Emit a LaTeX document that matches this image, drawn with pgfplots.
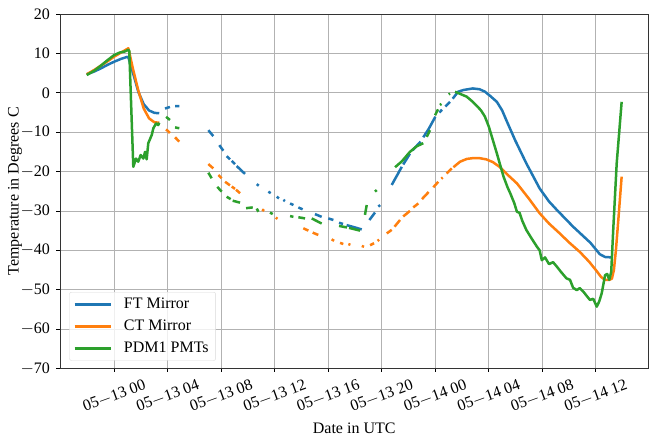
\documentclass[border=0pt]{standalone}
\usepackage{fontspec}
\setmainfont{Liberation Serif}
\usepackage{pgfplots}
\pgfplotsset{compat=1.18}
\definecolor{tabblue}{HTML}{1F77B4}
\definecolor{taborange}{HTML}{FF7F0E}
\definecolor{tabgreen}{HTML}{2CA02C}
\begin{document}
\begin{tikzpicture}
\begin{axis}[
  scale only axis,
  width=588.4pt, height=354.5pt,
  xmin=-4.06, xmax=39.93, ymin=-70, ymax=20,
  unbounded coords=jump,
  xtick={0,4,...,36},
  xticklabels={05$-$13 00,05$-$13 04,05$-$13 08,05$-$13 12,05$-$13 16,05$-$13 20,05$-$14 00,05$-$14 04,05$-$14 08,05$-$14 12},
  ytick={-70,-60,...,20},
  yticklabels={$-$70,$-$60,$-$50,$-$40,$-$30,$-$20,$-$10,0,10,20},
  tick align=outside, tick pos=left,
  major tick length=3.5pt,
  every tick/.style={black, line width=0.8pt},
  grid=major,
  major grid style={color=black!30, line width=0.8pt},
  axis line style={black!80, line width=0.9pt},
  ticklabel style={font=\fontsize{16}{19}\selectfont},
  xticklabel style={rotate=20, anchor=center},
  xticklabel shift=24pt,
  yticklabel style={anchor=east, xshift=-3pt},
  xlabel={Date in UTC},
  ylabel={Temperature in Degrees C},
  label style={font=\fontsize{16}{19}\selectfont},
  xlabel style={at={(axis description cs:0.5,-0.1678)}, anchor=center},
  ylabel style={at={(axis description cs:-0.0765,0.5)}, anchor=center},
  legend cell align=left,
  legend image code/.code={\draw[#1] (0pt,0pt) -- (36pt,0pt);},
  legend style={at={(0.0158,0.022)}, anchor=south west, draw=black!15, rounded corners=2pt,
    fill=white, fill opacity=0.8, text opacity=1, font=\fontsize{16}{19}\selectfont,
    inner xsep=4pt, inner ysep=5pt, row sep=8pt, column sep=9pt, nodes={inner xsep=3pt, inner ysep=1pt}},
  every axis plot/.append style={line width=2.5pt, line join=round, line cap=butt},
]
\addplot[tabblue] coordinates {
(-2.06,4.7) (-1.5,5.4) (-1.0,6.2) (-0.5,7.1) (0,7.9) (0.5,8.6) (0.95,9.1) (1.05,9.0) (1.4,5.0) (1.8,0.2) (2.2,-2.9) (2.6,-4.5) (3.0,-5.1) (3.36,-5.2)
(3.5,nan)
(3.79,-4.0) (4.16,-3.6) (4.3,nan) (4.54,-3.4) (4.86,-3.4) (5,nan)
(7.03,-9.5) (7.40,-11.0) (7.6,nan) (7.85,-13.3) (8.15,-14.7) (8.3,nan) (8.40,-16.1) (8.65,-16.9) (8.7,nan) (8.78,-17.3) (9.02,-18.1) (9.1,nan) (9.15,-18.6) (9.77,-20.6) (10,nan) (10.65,-23.2) (10.8,-23.6) (11,nan) (11.52,-25.1) (11.69,-25.5) (11.9,nan) (12.14,-26.4) (12.31,-26.8) (12.5,nan) (12.64,-27.2) (12.76,-27.5) (12.9,nan) (13.14,-28.1) (13.39,-28.5) (13.5,nan) (13.76,-29.1) (14.08,-29.6) (14.5,nan) (15.0,-30.8) (15.5,-31.5) (15.7,nan) (16.0,-31.9) (16.38,-32.3) (16.6,nan) (16.8,-33.0) (17.1,-33.3) (17.2,nan) (17.37,-33.6) (18.0,-34.2) (18.5,-34.7) (18.8,nan) (19.07,-32.3) (19.49,-30.4) (19.6,nan) (19.74,-28.9) (19.87,-28.5) (20.2,nan) (20.74,-23.4) (21.2,-20.6) (21.49,-18.8) (21.55,nan) (21.6,-18.2) (22.1,-15.5) (22.2,nan) (22.3,-14.6) (22.9,-12.4) (23.0,nan) (23.1,-11.3) (23.5,-9.2) (24.0,-6.1) (24.1,nan) (24.3,-5.0) (24.5,-4.3) (24.6,nan) (24.75,-3.5) (25.1,-2.3) (25.2,nan)
(25.3,-1.5) (25.7,0.25) (26.1,0.7) (26.8,1.1) (27.3,0.9) (27.7,0.3) (28.1,-0.8) (28.6,-2.3) (29.0,-4.5) (29.3,-6.9) (29.96,-12.0) (30.8,-17.9) (31.8,-24.3) (32.5,-27.6) (33.1,-29.8) (34.3,-34.0) (35.6,-38.1) (36.3,-41.0) (36.7,-41.7) (37.2,-41.8)
};
\addlegendentry{FT Mirror}
\addplot[taborange] coordinates {
(-2.06,4.7) (-1.5,5.8) (-1,6.9) (-0.5,8.0) (0,9.2) (0.5,10.2) (0.9,11.0) (1.05,11.3) (1.4,6) (1.8,0.5) (2.2,-4) (2.6,-6.5) (3.0,-7.5) (3.36,-7.6) (3.5,nan)
(3.87,-9.3) (4.16,-10.2) (4.3,nan) (4.54,-11.3) (4.86,-12.4) (5,nan)
(7.03,-18.1) (7.40,-19.2) (7.6,nan) (7.78,-20.9) (8.03,-21.7) (8.1,nan) (8.28,-22.6) (8.65,-23.5) (8.7,nan) (8.78,-23.8) (9.02,-24.4) (9.05,nan) (9.1,-24.6) (9.4,-25.5) (9.6,nan) (11.05,-29.6) (11.2,-30.0) (11.5,nan) (12.07,-31.7) (12.2,-32.0) (12.5,nan) (14.13,-34.4) (14.51,-35.0) (14.6,nan) (14.83,-35.5) (15.25,-36.1) (15.5,nan) (16.25,-37.2) (16.43,-37.6) (16.6,nan) (16.88,-38.1) (17.12,-38.4) (17.3,nan) (17.5,-38.4) (17.65,-38.6) (17.8,nan) (18.5,-38.9) (18.67,-39.1) (18.8,nan) (19.12,-38.7) (19.42,-38.2) (19.5,nan) (19.68,-37.6) (19.8,-37.3) (20,nan) (20.37,-35.7) (20.74,-34.8) (20.8,nan) (20.95,-34.0) (21.36,-32.3) (21.5,nan) (21.6,-31.4) (22.1,-30.0) (22.2,nan) (22.35,-29.1) (22.73,-28.1) (22.8,nan) (23.0,-27.0) (23.5,-25.2) (23.6,nan) (23.85,-24.0) (24.22,-22.6) (24.3,nan) (24.45,-21.8) (24.55,-21.5) (24.7,nan) (24.85,-20.5) (25.23,-19.2) (25.3,nan)
(25.35,-18.9) (25.85,-17.5) (26.35,-16.8) (26.8,-16.6) (27.3,-16.6) (27.8,-16.9) (28.3,-17.6) (28.8,-18.8) (29.4,-20.8) (30.1,-23.0) (31.0,-26.9) (31.8,-30.6) (32.5,-33.2) (33.3,-35.7) (34.0,-38.0) (34.8,-40.4) (35.5,-42.9) (36.07,-45.3) (36.4,-46.8) (36.7,-47.5) (37.0,-47.5) (37.2,-47.2) (37.35,-45.0) (37.5,-40) (37.68,-32.3) (37.8,-27) (37.93,-21.3)
};
\addlegendentry{CT Mirror}
\addplot[tabgreen] coordinates {
(-2.06,4.5) (-1.5,5.6) (-1,6.9) (-0.5,8.3) (0,9.6) (0.4,10.2) (0.8,10.5) (1.05,10.9) (1.12,10.6) (1.42,-18.8) (1.62,-16.7) (1.79,-17.5) (1.97,-15.8) (2.17,-16.7) (2.30,-15.0) (2.42,-16.9) (2.54,-12.8) (2.80,-10.7) (2.92,-9.0) (3.12,-7.8) (3.29,-8.2) (3.36,-7.6) (3.5,nan)
(3.87,-6.1) (4.16,-6.9) (4.3,nan) (4.54,-8.8) (4.86,-9.0) (5,nan)
(7.03,-20.3) (7.28,-21.7) (7.5,nan) (7.7,-23.9) (8.03,-25.1) (8.2,nan) (8.4,-26.4) (8.7,-27.0) (8.8,nan) (8.85,-27.4) (9.4,-27.9) (9.6,nan) (9.85,-29.3) (10.35,-29.1) (10.5,nan) (10.65,-29.4) (10.77,-30.2) (11,nan) (11.64,-30.4) (11.84,-30.8) (12,nan) (13.14,-31.3) (13.39,-31.5) (13.5,nan) (13.76,-31.6) (14.26,-31.9) (14.5,nan) (14.76,-31.9) (15.5,-33.2) (15.7,nan) (16.8,-33.8) (17.4,-34.2) (17.5,nan) (17.55,-34.3) (18.37,-35.0) (18.5,nan) (18.74,-31.0) (18.87,-28.5) (19,nan) (19.49,-25.1) (19.62,-24.7) (19.8,nan)
(20.99,-18.9) (21.5,-17.4) (22.1,-15.0) (22.6,-13.6) (23.1,-12.8) (23.2,nan) (23.36,-11.2) (23.6,-9.5) (23.8,nan) (23.98,-5.7) (24.2,-4.2) (24.3,nan) (24.35,-3.1) (24.45,-2.8) (24.7,nan) (25.0,-0.4) (25.1,-0.2) (25.3,nan)
(25.47,0.25) (25.8,-0.2) (26.35,-1.0) (26.8,-2.3) (27.0,-3.0) (27.4,-4.4) (27.7,-6) (28.0,-8.6) (28.3,-12) (28.6,-15.4) (29.1,-21.3) (29.4,-24) (29.6,-25.5) (29.9,-28) (30.1,-30.2) (30.3,-30.5) (30.5,-32.5) (30.8,-34.8) (31.2,-37) (31.6,-39.1) (31.8,-40) (31.96,-42.5) (32.2,-41.8) (32.5,-43.5) (32.8,-43) (33.1,-44.2) (33.4,-45.5) (33.8,-47.1) (34.07,-47.5) (34.3,-49.5) (34.57,-50.1) (34.8,-49.6) (35.07,-50.5) (35.3,-51.5) (35.56,-52.6) (35.8,-52.3) (36.07,-54.3) (36.25,-53) (36.44,-50.9) (36.69,-46.3) (36.85,-46.0) (37.0,-47.5) (37.15,-45.5) (37.3,-34.8) (37.56,-17.9) (37.93,-2.3)
};
\addlegendentry{PDM1 PMTs}
\end{axis}
\pgfresetboundingbox
\path (current axis.south west) ++(-60pt,-69.5pt) coordinate (bl);
\path (current axis.north east) ++(8.6pt,14pt) coordinate (tr);
\path[use as bounding box] (bl) rectangle (tr);
\end{tikzpicture}
\end{document}
